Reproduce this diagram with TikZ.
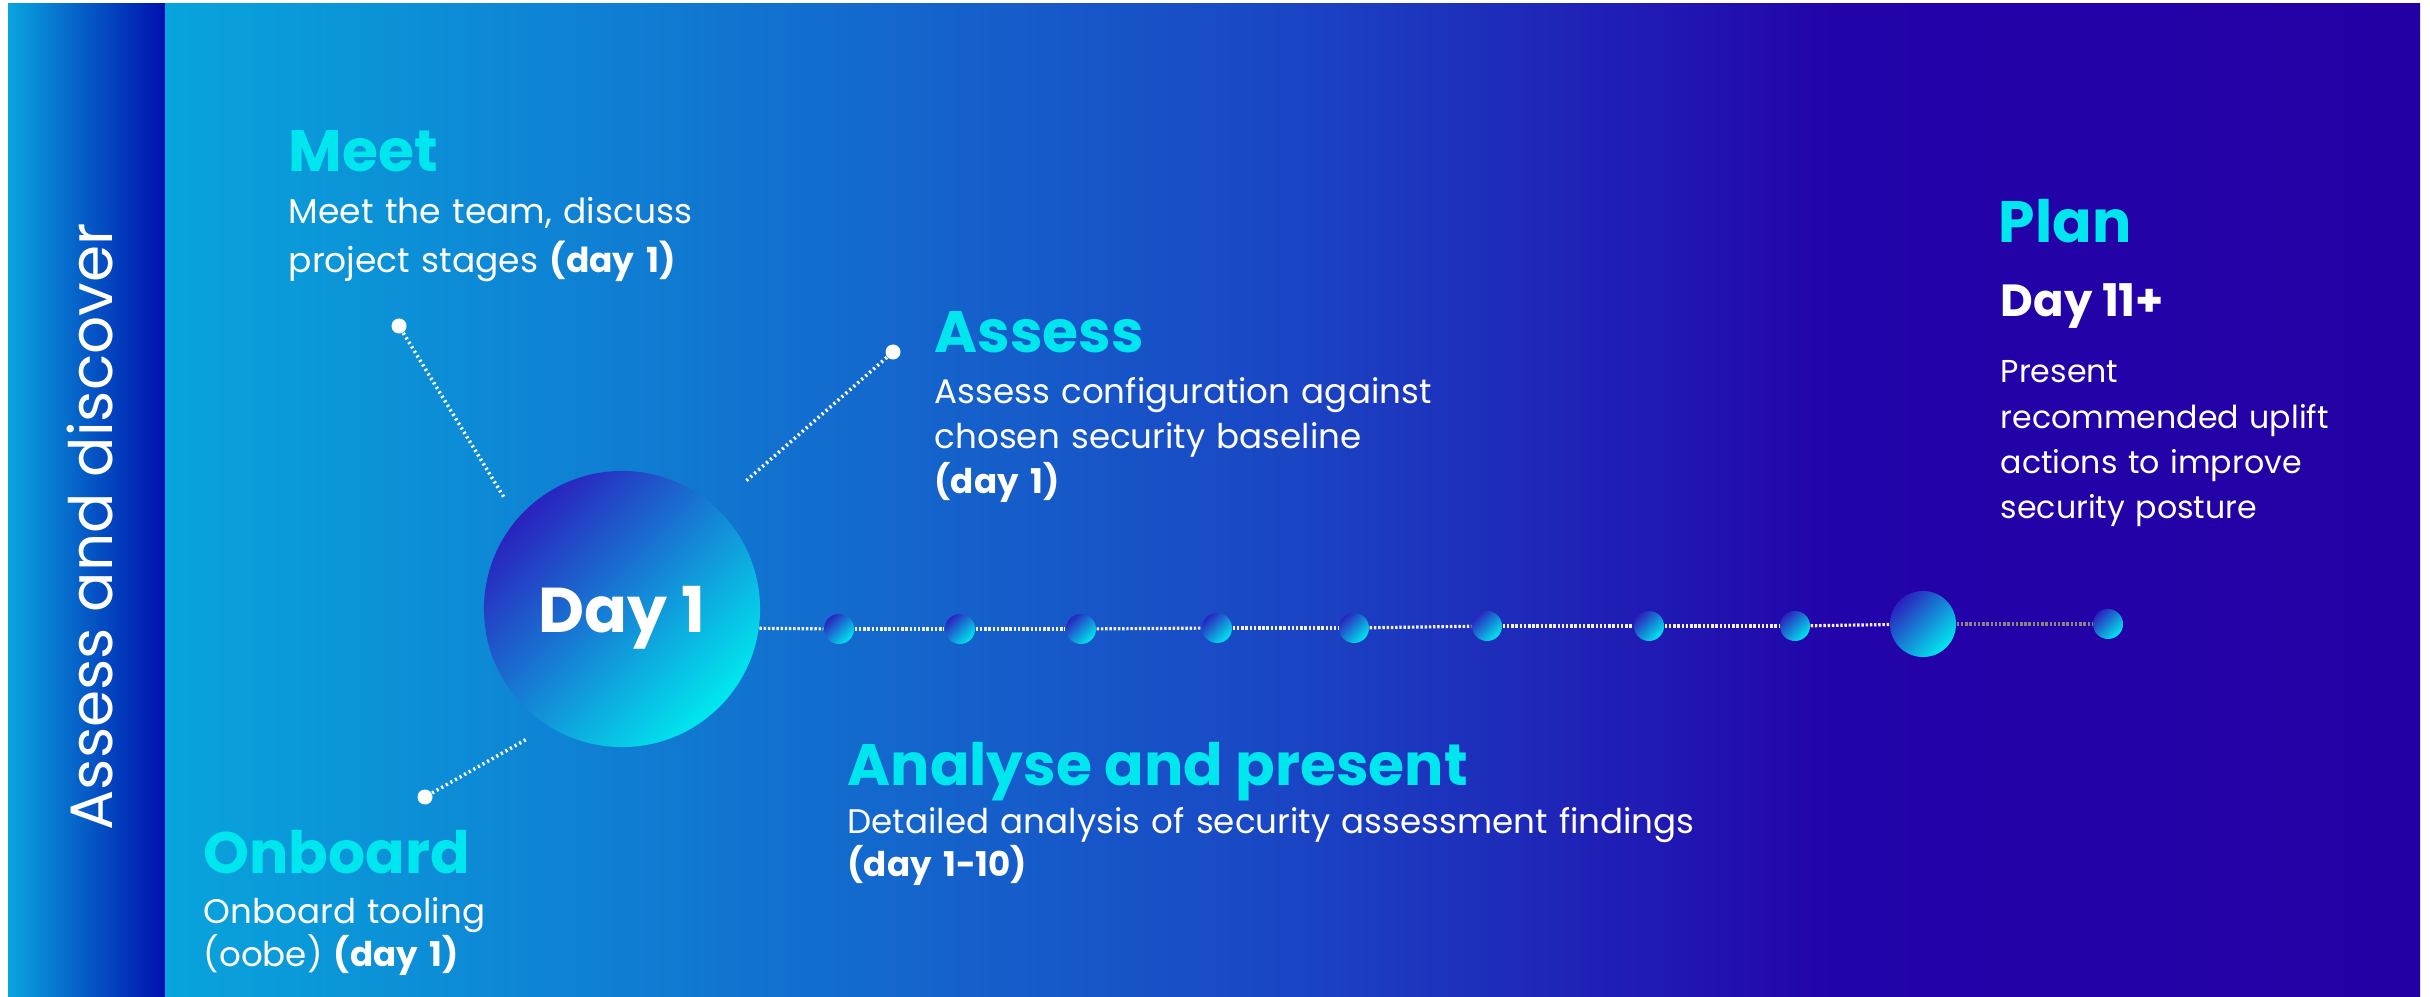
\documentclass[tikz,border=0pt]{standalone}
\usepackage{fontspec}
\setmainfont{Poppins}
\usepackage{tikz}

\definecolor{headcyan}{HTML}{00E6EE}
\definecolor{bandleft}{HTML}{0AA4DE}
\definecolor{bandright}{HTML}{0010AE}
\definecolor{bgleft}{HTML}{08A4DC}
\definecolor{bgmid}{HTML}{1A45C4}
\definecolor{bgdeep}{HTML}{2304AA}
\definecolor{bgright}{HTML}{2300A4}
\definecolor{dotdark}{HTML}{2A22BE}
\definecolor{dotcyan}{HTML}{00E8EE}
\definecolor{leadgray}{HTML}{8A8680}

\pgfdeclarehorizontalshading{backdrop}{100bp}{color(0bp)=(bgleft); color(25bp)=(bgleft);
  color(50bp)=(bgmid); color(62bp)=(bgdeep); color(75bp)=(bgright); color(100bp)=(bgright)}

\begin{document}
\begin{tikzpicture}
  [x=0.01cm,y=-0.01cm,
   heading/.style={anchor=base west,inner sep=0pt,text=headcyan,font=\bfseries\fontsize{16.6pt}{20pt}\selectfont},
   blurb/.style={anchor=base west,inner sep=0pt,text=white,text width=12cm,align=left,font=\fontsize{9.7pt}{12.8pt}\selectfont},
   daylabel/.style={anchor=base west,inner sep=0pt,text=white,font=\bfseries\fontsize{12.8pt}{14pt}\selectfont},
   sidelabel/.style={inner sep=0pt,text=white,font=\fontsize{17pt}{20pt}\selectfont},
   stepdot/.style={circle,inner sep=0pt,minimum size=0.30cm,top color=dotdark,bottom color=dotcyan,shading angle=45},
   bigdot/.style={stepdot,minimum size=2.76cm,text=white,text depth=0pt,font=\bfseries\fontsize{18pt}{20pt}\selectfont},
   pindot/.style={circle,fill=white,inner sep=0pt,minimum size=0.15cm},
   leader/.style={white,line width=1pt,dash pattern=on 0.6pt off 0.9pt},
   timeline/.style={white!88!gray,line width=0.9pt,dash pattern=on 0.7pt off 0.5pt}]
  \useasboundingbox (0,0) rectangle (2430,997);
  \fill[white] (0,0) rectangle (2430,997);
  \fill[left color=bandleft,right color=bandright] (8,4) rectangle (165,997);
  \fill[shading=backdrop] (165,4) rectangle (2420,997);

  \node[sidelabel,rotate=90] (phase) at (90,527) {Assess and discover};

  \node[bigdot] (day1) at (622,609) {Day 1};
  \node[stepdot] (t1) at (839,629) {};
  \node[stepdot] (t2) at (960,629) {};
  \node[stepdot] (t3) at (1081,629) {};
  \node[stepdot] (t4) at (1217,628) {};
  \node[stepdot] (t5) at (1354,628) {};
  \node[stepdot] (t6) at (1487,626) {};
  \node[stepdot] (t7) at (1649,626) {};
  \node[stepdot] (t8) at (1795,626) {};
  \node[stepdot,minimum size=0.66cm] (t9) at (1923,624) {};
  \node[stepdot] (t10) at (2108,624) {};

  \draw[timeline] (day1.-8) -- (t1);
  \foreach \from/\to in {t1/t2,t2/t3,t3/t4,t4/t5,t5/t6,t6/t7,t7/t8,t8/t9}
    \draw[timeline] (\from) -- (\to);
  \draw[timeline,leadgray] (t9) -- (t10);

  \node[pindot] (meetpin) at (399,326) {};
  \node[pindot] (assesspin) at (893,352) {};
  \node[pindot] (onboardpin) at (425,797) {};
  \coordinate (meetend) at (505,499);
  \coordinate (assessend) at (746,481);
  \coordinate (onboardend) at (527,739);
  \foreach \from/\to in {meetpin/meetend,assesspin/assessend,onboardpin/onboardend}
    \draw[leader] (\from) -- (\to);

  \node[heading] (meet) at (288,172) {Meet};
  \node[blurb,font=\fontsize{9.8pt}{14.2pt}\selectfont] (meettext) at (288,223)
    {Meet the team, discuss\\project stages \textbf{(day 1)}};

  \node[heading] (assess) at (934,352) {Assess};
  \node[blurb] (assesstext) at (934,403)
    {Assess configuration against\\chosen security baseline\\\textbf{(day 1)}};

  \node[heading] (onboard) at (203,873) {Onboard};
  \node[blurb,font=\fontsize{9.7pt}{12.5pt}\selectfont] (onboardtext) at (203,923)
    {Onboard tooling\\(oobe) \textbf{(day 1)}};

  \node[heading] (analyse) at (847,785) {Analyse and present};
  \node[blurb,font=\fontsize{9.7pt}{12.5pt}\selectfont] (analysetext) at (847,833)
    {Detailed analysis of security assessment findings\\\textbf{(day 1-10)}};

  \node[heading] (plan) at (1998,243) {Plan};
  \node[daylabel] (planday) at (2000,317) {Day 11+};
  \node[blurb,font=\fontsize{9pt}{12.8pt}\selectfont] (plantext) at (2000,383)
    {Present\\recommended uplift\\actions to improve\\security posture};
\end{tikzpicture}
\end{document}
